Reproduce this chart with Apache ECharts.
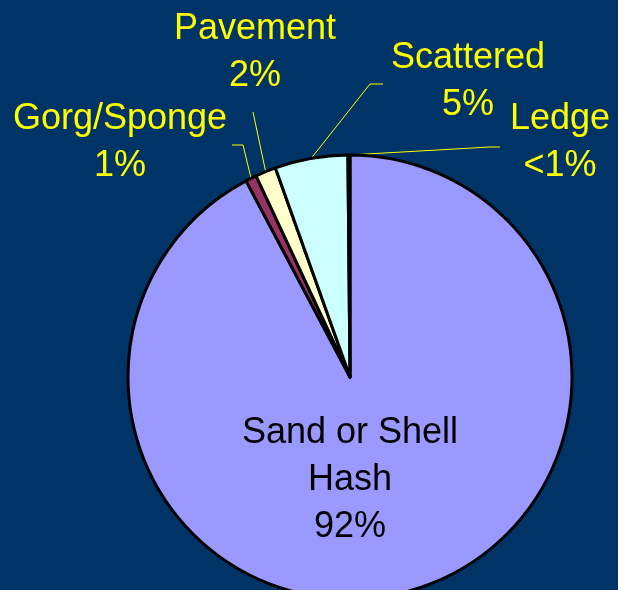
<!DOCTYPE html>
<html>
<head>
<meta charset="utf-8">
<script src="https://cdn.jsdelivr.net/npm/echarts@6/dist/echarts.min.js"></script>
<style>
html, body { margin: 0; padding: 0; background: #003366; }
#chart { width: 618px; height: 590px; }
</style>
</head>
<body>
<div id="chart"></div>
<script>
// data, clockwise from 12 o'clock
var categories = ['Sand or Shell\nHash', 'Gorg/Sponge', 'Pavement', 'Scattered', 'Ledge'];
var shares = [92.2, 0.8, 1.5, 5.3, 0.15];
var pctLabels = ['92%', '1%', '2%', '5%', '<1%'];
var sliceColors = ['#9999FF', '#993366', '#FFFFCC', '#CCFFFF', '#000066'];

// where each label sits, and where its leader line bends / ends
var labelPos = [[350, 480], [120, 143], [255, 53], [468, 82], [560, 143]];
var lineBend = [null, [[243, 145], [232, 145]], [[253, 112], [253, 112]], [[370, 84], [383, 84]], [[490, 147], [500, 147]]];

var chart = echarts.init(document.getElementById('chart'));

chart.setOption({
  backgroundColor: '#003366',
  animation: false,
  series: [{
    type: 'pie',
    center: [350, 377],
    radius: 222,
    startAngle: 90,
    clockwise: true,
    avoidLabelOverlap: false,
    itemStyle: { borderColor: '#000', borderWidth: 3 },
    label: {
      show: true,
      position: 'outside',
      color: '#FFFF00',
      fontFamily: 'Liberation Sans, Arial, sans-serif',
      fontSize: 36,
      lineHeight: 47,
      align: 'center',
      formatter: function (p) { return p.name + '\n' + pctLabels[p.dataIndex]; }
    },
    labelLine: { show: true, length: 10, length2: 10, smooth: false,
      lineStyle: { color: '#FFFF00', width: 1 } },
    labelLayout: function (p) {
      var i = p.dataIndex;
      var out = { x: labelPos[i][0], y: labelPos[i][1], align: 'center', verticalAlign: 'middle' };
      if (lineBend[i] && p.labelLinePoints) {
        var pts = p.labelLinePoints;
        out.labelLinePoints = [pts[0], lineBend[i][0], lineBend[i][1]];
      }
      return out;
    },
    emphasis: { disabled: true },
    data: categories.map(function (c, i) {
      var d = { name: c, value: shares[i], itemStyle: { color: sliceColors[i] } };
      if (i === 0) {
        d.label = { position: 'inside', color: '#000' };
        d.labelLine = { show: false };
      }
      return d;
    })
  }]
});
</script>
</body>
</html>
